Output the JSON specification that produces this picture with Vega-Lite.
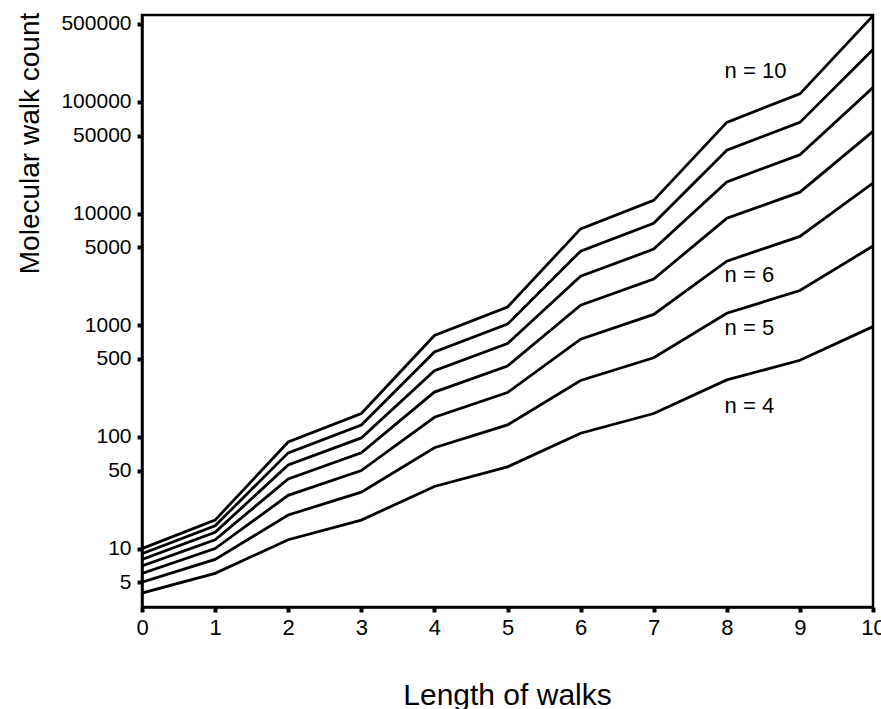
{
  "$schema": "https://vega.github.io/schema/vega-lite/v6.json",
  "width": 731,
  "height": 592,
  "autosize": {"type": "none"},
  "padding": {"left": 142, "top": 15, "right": 8, "bottom": 102},
  "background": "white",
  "config": {
    "font": "Liberation Sans",
    "view": {"stroke": "black", "strokeWidth": 2.5},
    "axis": {
      "grid": false,
      "domainColor": "black",
      "domainWidth": 2.5,
      "tickColor": "black",
      "tickWidth": 4,
      "tickSize": 5,
      "labelColor": "black",
      "titleColor": "black",
      "labelFont": "Liberation Sans",
      "titleFont": "Liberation Sans",
      "titleFontWeight": "normal",
      "labelFlush": false,
      "labelOverlap": false
    }
  },
  "datasets": {
    "walks": [
      {"n": 4, "length": 0, "count": 4}, {"n": 4, "length": 1, "count": 6}, {"n": 4, "length": 2, "count": 12}, {"n": 4, "length": 3, "count": 18}, {"n": 4, "length": 4, "count": 36}, {"n": 4, "length": 5, "count": 54}, {"n": 4, "length": 6, "count": 108}, {"n": 4, "length": 7, "count": 162}, {"n": 4, "length": 8, "count": 324}, {"n": 4, "length": 9, "count": 486}, {"n": 4, "length": 10, "count": 972},
      {"n": 5, "length": 0, "count": 5}, {"n": 5, "length": 1, "count": 8}, {"n": 5, "length": 2, "count": 20}, {"n": 5, "length": 3, "count": 32}, {"n": 5, "length": 4, "count": 80}, {"n": 5, "length": 5, "count": 128}, {"n": 5, "length": 6, "count": 320}, {"n": 5, "length": 7, "count": 512}, {"n": 5, "length": 8, "count": 1280}, {"n": 5, "length": 9, "count": 2048}, {"n": 5, "length": 10, "count": 5120},
      {"n": 6, "length": 0, "count": 6}, {"n": 6, "length": 1, "count": 10}, {"n": 6, "length": 2, "count": 30}, {"n": 6, "length": 3, "count": 50}, {"n": 6, "length": 4, "count": 150}, {"n": 6, "length": 5, "count": 250}, {"n": 6, "length": 6, "count": 750}, {"n": 6, "length": 7, "count": 1250}, {"n": 6, "length": 8, "count": 3750}, {"n": 6, "length": 9, "count": 6250}, {"n": 6, "length": 10, "count": 18750},
      {"n": 7, "length": 0, "count": 7}, {"n": 7, "length": 1, "count": 12}, {"n": 7, "length": 2, "count": 42}, {"n": 7, "length": 3, "count": 72}, {"n": 7, "length": 4, "count": 252}, {"n": 7, "length": 5, "count": 432}, {"n": 7, "length": 6, "count": 1512}, {"n": 7, "length": 7, "count": 2592}, {"n": 7, "length": 8, "count": 9072}, {"n": 7, "length": 9, "count": 15552}, {"n": 7, "length": 10, "count": 54432},
      {"n": 8, "length": 0, "count": 8}, {"n": 8, "length": 1, "count": 14}, {"n": 8, "length": 2, "count": 56}, {"n": 8, "length": 3, "count": 98}, {"n": 8, "length": 4, "count": 392}, {"n": 8, "length": 5, "count": 686}, {"n": 8, "length": 6, "count": 2744}, {"n": 8, "length": 7, "count": 4802}, {"n": 8, "length": 8, "count": 19208}, {"n": 8, "length": 9, "count": 33614}, {"n": 8, "length": 10, "count": 134456},
      {"n": 9, "length": 0, "count": 9}, {"n": 9, "length": 1, "count": 16}, {"n": 9, "length": 2, "count": 72}, {"n": 9, "length": 3, "count": 128}, {"n": 9, "length": 4, "count": 576}, {"n": 9, "length": 5, "count": 1024}, {"n": 9, "length": 6, "count": 4608}, {"n": 9, "length": 7, "count": 8192}, {"n": 9, "length": 8, "count": 36864}, {"n": 9, "length": 9, "count": 65536}, {"n": 9, "length": 10, "count": 294912},
      {"n": 10, "length": 0, "count": 10}, {"n": 10, "length": 1, "count": 18}, {"n": 10, "length": 2, "count": 90}, {"n": 10, "length": 3, "count": 162}, {"n": 10, "length": 4, "count": 810}, {"n": 10, "length": 5, "count": 1458}, {"n": 10, "length": 6, "count": 7290}, {"n": 10, "length": 7, "count": 13122}, {"n": 10, "length": 8, "count": 65610}, {"n": 10, "length": 9, "count": 118098}, {"n": 10, "length": 10, "count": 590490}
    ],
    "labels": [
      {"label": "n = 10", "length": 7.97, "count": 189000},
      {"label": "n = 6", "length": 7.97, "count": 2825},
      {"label": "n = 5", "length": 7.97, "count": 940},
      {"label": "n = 4", "length": 7.97, "count": 189}
    ]
  },
  "layer": [
    {
      "data": {"name": "walks"},
      "mark": {"type": "line", "color": "black", "strokeWidth": 2.8, "strokeJoin": "miter", "clip": true},
      "encoding": {
        "x": {
          "field": "length",
          "type": "quantitative",
          "scale": {"domain": [0, 10], "nice": false, "zero": false},
          "axis": {
            "values": [0, 1, 2, 3, 4, 5, 6, 7, 8, 9, 10],
            "format": "d",
            "labelFontSize": 22,
            "labelPadding": 5,
            "title": "Length of walks",
            "titleFontSize": 30,
            "titleBaseline": "alphabetic",
            "titleY": 97,
            "titleX": 365
          }
        },
        "y": {
          "field": "count",
          "type": "quantitative",
          "scale": {"type": "log", "domain": [3, 600000], "nice": false},
          "axis": {
            "values": [5, 10, 50, 100, 500, 1000, 5000, 10000, 50000, 100000, 500000],
            "format": "d",
            "labelFontSize": 21,
            "labelPadding": 6,
            "title": "Molecular walk count",
            "titleFontSize": 28,
            "titleAngle": -90,
            "titleAlign": "center",
            "titleBaseline": "alphabetic",
            "titleX": -104,
            "titleY": 128
          }
        },
        "detail": {"field": "n", "type": "nominal"}
      }
    },
    {
      "data": {"name": "labels"},
      "mark": {"type": "text", "align": "left", "baseline": "middle", "fontSize": 22, "color": "black", "font": "Liberation Sans"},
      "encoding": {
        "x": {"field": "length", "type": "quantitative"},
        "y": {"field": "count", "type": "quantitative"},
        "text": {"field": "label", "type": "nominal"}
      }
    }
  ]
}
